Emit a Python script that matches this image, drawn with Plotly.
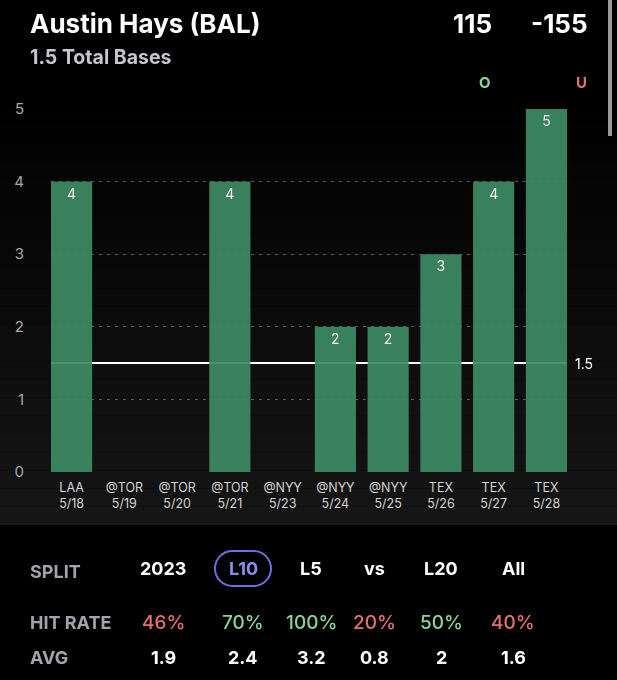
import plotly.graph_objects as go

# ---- data ----
opponents = ["LAA", "@TOR", "@TOR", "@TOR", "@NYY", "@NYY", "@NYY", "TEX", "TEX", "TEX"]
dates = ["5/18", "5/19", "5/20", "5/21", "5/23", "5/24", "5/25", "5/26", "5/27", "5/28"]
total_bases = [4, 0, 0, 4, 0, 2, 2, 3, 4, 5]
line_value = 1.5

player = "Austin Hays (BAL)"
market = "1.5 Total Bases"
over_odds = "115"
under_odds = "-155"

split_labels = ["2023", "L10", "L5", "vs", "L20", "All"]
hit_rates = [46, 70, 100, 20, 50, 40]
averages = ["1.9", "2.4", "3.2", "0.8", "2", "1.6"]
selected_split = "L10"

# ---- geometry helpers (pixel -> paper) ----
W, H = 617, 680
ML, MR, MT, MB = 51, 50, 109, 208
PW, PH = W - ML - MR, H - MT - MB


def px(x):
    return (x - ML) / PW


def py(y):
    return (H - MB - y) / PH


FONT = "Inter, Roboto, 'DejaVu Sans', sans-serif"
GREEN_BAR = "#3e8a65"
GREEN_TXT = "#8ad49a"
RED_TXT = "#e6716c"

cats = [f"{o}<br>{d}" for o, d in zip(opponents, dates)]
bar_text = [str(v) if v else "" for v in total_bases]

fig = go.Figure()
fig.add_trace(go.Bar(
    x=list(range(len(cats))), y=total_bases,
    marker=dict(color=GREEN_BAR, line=dict(width=0)), opacity=0.93,
    text=bar_text, textposition="inside", insidetextanchor="end",
    textfont=dict(color="#ffffff", size=14, family=FONT),
    textangle=0, hoverinfo="skip",
))

shapes = []
# chart panel gradient background
top, bot = 88, 525
n = 24
for i in range(n):
    y0 = top + (bot - top) * i / n
    y1 = top + (bot - top) * (i + 1) / n
    c = int(0 + 22 * (i + 0.5) / n)
    shapes.append(dict(type="rect", xref="paper", yref="paper",
                       x0=px(0), x1=px(W), y0=py(y1), y1=py(y0),
                       fillcolor=f"rgb({c},{c},{c})", line=dict(width=0), layer="below"))
# threshold line
shapes.append(dict(type="line", xref="paper", yref="y", x0=0, x1=1,
                   y0=line_value, y1=line_value,
                   line=dict(color="#ffffff", width=2), layer="below"))
# scrollbar
shapes.append(dict(type="rect", xref="paper", yref="paper",
                   x0=px(608), x1=px(612), y0=py(136), y1=py(0),
                   fillcolor="#9a9a9a", line=dict(width=0)))

# pill around selected split
sel_idx = split_labels.index(selected_split)
col_x = [163, 243, 311, 374, 441, 513]
cx = col_x[sel_idx]
x0p, x1p, y0p, y1p = cx - 28, cx + 28, 551, 586
r = (y1p - y0p) / 2
k = 0.5523 * r
pts = [
    ("M", [(x0p + r, y0p)]),
    ("L", [(x1p - r, y0p)]),
    ("C", [(x1p - r + k, y0p), (x1p, y0p + r - k), (x1p, y0p + r)]),
    ("C", [(x1p, y0p + r + k), (x1p - r + k, y1p), (x1p - r, y1p)]),
    ("L", [(x0p + r, y1p)]),
    ("C", [(x0p + r - k, y1p), (x0p, y0p + r + k), (x0p, y0p + r)]),
    ("C", [(x0p, y0p + r - k), (x0p + r - k, y0p), (x0p + r, y0p)]),
]
path = ""
for cmd, ps in pts:
    path += cmd + " " + " ".join(f"{px(a):.5f},{py(b):.5f}" for a, b in ps) + " "
path += "Z"
shapes.append(dict(type="path", xref="paper", yref="paper", path=path,
                   line=dict(color="#6f6fe0", width=2), fillcolor="rgba(0,0,0,0)"))

ann = []


def text(x, y, s, size, color, anchor="center", bold=True):
    ann.append(dict(xref="paper", yref="paper", x=px(x), y=py(y), text=f"<b>{s}</b>" if bold else s,
                    showarrow=False, xanchor=anchor, yanchor="middle",
                    font=dict(size=size, color=color, family=FONT)))


text(28, 23, player, 26, "#ffffff", "left")
text(28, 57, market, 19.5, "#c6c6cc", "left")
text(494, 23, over_odds, 26, "#ffffff", "right")
text(590, 23, under_odds, 26, "#ffffff", "right")
text(485, 82, "O", 15, GREEN_TXT)
text(581, 82, "U", 15, RED_TXT)
# line label
ann.append(dict(xref="paper", yref="y", x=px(573), y=line_value, text=str(line_value),
                showarrow=False, xanchor="left", yanchor="middle",
                font=dict(size=14, color="#ffffff", family=FONT)))

# table
text(28, 571, "SPLIT", 18, "#a3a3ad", "left")
text(28, 622, "HIT RATE", 18, "#a3a3ad", "left")
text(28, 657, "AVG", 18, "#a3a3ad", "left")
for i, lab in enumerate(split_labels):
    col = "#8c8cf0" if lab == selected_split else "#ffffff"
    text(col_x[i], 568, lab, 18, col)
    hr = hit_rates[i]
    text(col_x[i], 622, f"<span style='font-weight:500'>{hr}%</span>", 19,
         GREEN_TXT if hr >= 50 else RED_TXT, bold=False)
    text(col_x[i], 657, averages[i], 18, "#ffffff")

fig.update_layout(
    width=W, height=H, margin=dict(l=ML, r=MR, t=MT, b=MB),
    paper_bgcolor="#000000", plot_bgcolor="rgba(0,0,0,0)",
    bargap=0.22, showlegend=False, shapes=shapes, annotations=ann,
    font=dict(family=FONT),
    xaxis=dict(range=[-0.39, len(cats) - 1 + 0.39], tickmode="array",
               tickvals=list(range(len(cats))), ticktext=cats,
               showgrid=False, zeroline=False, showline=False, ticks="",
               ticklabelstandoff=6,
               tickfont=dict(size=12.5, color="#d4d4d4", family=FONT)),
    yaxis=dict(range=[0, 5], tickvals=[0, 1, 2, 3, 4, 5], showgrid=True,
               gridcolor="#5a5a5a", griddash="3px,5px", gridwidth=1,
               zeroline=False, showline=False, ticks="", ticklabelstandoff=26,
               tickfont=dict(size=15, color="#a8a8a8", family=FONT)),
)

fig.write_html("out.html", config={"displayModeBar": False},
               post_script="document.body.style.margin='0';document.body.style.background='#000';")
